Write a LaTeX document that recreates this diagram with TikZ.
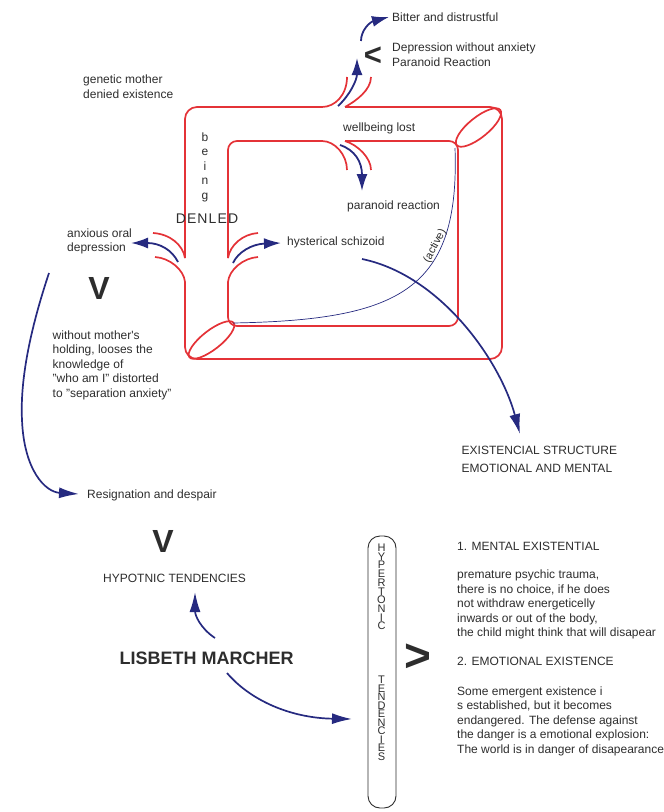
\documentclass[tikz,border=0pt]{standalone}
\usepackage{fontspec}
\setmainfont{Liberation Sans}
\usetikzlibrary{arrows.meta}
\definecolor{fr}{RGB}{228,50,55}
\definecolor{nv}{RGB}{38,42,128}
\definecolor{tx}{RGB}{45,45,45}
\newcommand{\ml}[1]{\begin{tabular}[t]{@{}l@{}}#1\end{tabular}}
\tikzset{
  lbl/.style={anchor=base west, inner sep=0pt, text=tx, font=\fontsize{12bp}{14.5bp}\selectfont},
  frame/.style={draw=fr, line width=1.7bp},
  chan/.style={draw=nv, line width=1.8bp, -{Latex[length=17bp,width=11bp]}},
  bigarrow/.style={draw=nv, line width=1.7bp, -{Latex[length=20bp,width=11bp]}},
  sym/.style={inner sep=0pt, text=tx},
  vletter/.style={inner sep=0pt, text=tx, font=\fontsize{11bp}{11bp}\selectfont},
}
\begin{document}
\begin{tikzpicture}[x=1bp,y=-1bp]
\useasboundingbox (0,0) rectangle (664,812);

% ---------- vertical box (first) ----------
\node[draw=tx, line width=0.9bp, rounded corners=12bp, minimum width=28bp, minimum height=272bp, inner sep=0pt] (htbox) at (382,672) {};
\foreach \ltr [count=\k from 0] in {H,Y,P,E,R,T,O,N,I,C}
  \node[vletter, anchor=base] (hy\k) at (381.5,{551.5+8.72*\k}) {\ltr};
\foreach \ltr [count=\k from 0] in {T,E,N,D,E,N,C,I,E,S}
  \node[vletter, anchor=base] (te\k) at (381.5,{683.5+8.5*\k}) {\ltr};
\node[sym, font=\fontsize{46bp}{46bp}\selectfont\bfseries] (gt) at (418,658) {>};

% ---------- red frame: outer ----------
\draw[frame, rounded corners=12bp] (322,107) -- (185,107) -- (185,258);
\draw[frame] (322,107) .. controls (335,107) and (347,95) .. (347,77);
\draw[frame] (185,258) .. controls (183,245) and (170,234) .. (153,233);
\draw[frame, rounded corners=12bp] (345,107) -- (502,107) -- (502,359) -- (185,359) -- (185,282);
\draw[frame] (345,107) .. controls (356,101) and (371,90) .. (371,77);
\draw[frame] (185,282) .. controls (184,270) and (170,258) .. (155,257);
% ---------- red frame: inner ----------
\draw[frame, rounded corners=9bp] (322,141) -- (228,141) -- (228,258);
\draw[frame] (322,141) .. controls (335,141) and (347,155) .. (347,170);
\draw[frame] (228,258) .. controls (230,245) and (243,234) .. (258,233);
\draw[frame, rounded corners=9bp] (345,141) -- (458,141) -- (458,326) -- (228,326) -- (228,282);
\draw[frame] (345,141) .. controls (358,145) and (371,158) .. (371,170);
\draw[frame] (228,282) .. controls (229,270) and (243,258) .. (258,257);
% ---------- ellipses at corners ----------
\draw[frame, rotate around={39:(478.5,127.5)}] (478.5,127.5) ellipse [x radius=28, y radius=10];
\draw[frame, rotate around={38:(211.5,340)}] (211.5,340) ellipse [x radius=28, y radius=9.5];

% ---------- coordinates for connectors ----------
\coordinate (c1s) at (338,106);  \coordinate (c1e) at (357,58);
\coordinate (c2s) at (361,41);   \coordinate (c2e) at (389,17);
\coordinate (c3s) at (340,145);  \coordinate (c3e) at (362,191);
\coordinate (c4s) at (178,262);  \coordinate (c4e) at (131,243);
\coordinate (c5s) at (233,263);  \coordinate (c5e) at (281,243);
\coordinate (b1s) at (362,259);  \coordinate (b1e) at (520,434);
\coordinate (b2s) at (49,273);   \coordinate (b2e) at (79,494);
\coordinate (b3s) at (215,638);  \coordinate (b3e) at (195,592);
\coordinate (b4s) at (227,673);  \coordinate (b4e) at (352,719);
\coordinate (as) at (455,148);   \coordinate (ae) at (233,323);

% ---------- blue channel arrows ----------
\draw[chan] (c1s) .. controls (350,95) and (357,80) .. (c1e);
\draw[chan] (c2s) .. controls (361,30) and (370,22) .. (c2e);
\draw[chan] (c3s) .. controls (355,150) and (362,162) .. (c3e);
\draw[chan] (c4s) .. controls (172,250) and (160,243) .. (c4e);
\draw[chan] (c5s) .. controls (238,252) and (252,244) .. (c5e);

% ---------- thin (active) curve ----------
\draw[nv, line width=0.7bp] (as) .. controls (460,290) and (400,320) .. (ae);

% ---------- big blue arrows ----------
\draw[bigarrow] (b1s) .. controls (440,275) and (500,360) .. (b1e);
\draw[bigarrow] (b2s) .. controls (30,330) and (20,380) .. (22,420) .. controls (24,470) and (45,492) .. (b2e);
\draw[bigarrow] (b3s) .. controls (200,628) and (195,615) .. (b3e);
\draw[bigarrow] (b4s) .. controls (250,700) and (290,718) .. (b4e);

% ---------- texts ----------
\node[lbl] (bitter) at (392,22) {Bitter and distrustful};
\node[lbl] (dep) at (392,52) {\ml{Depression without anxiety\\Paranoid Reaction}};
\node[sym, font=\fontsize{31bp}{31bp}\selectfont\bfseries] (lt) at (373,56) {<};
\node[lbl] (gm) at (83,83.5) {\ml{genetic mother\\denied existence}};
\node[lbl] (wl) at (343,131.5) {wellbeing lost};
\node[lbl] (pr) at (347,209.5) {paranoid reaction};
\node[lbl] (hs) at (287,245.5) {hysterical schizoid};
\node[lbl] (aod) at (67,237) {\ml{anxious oral\\depression}};
\node[sym, font=\fontsize{12bp}{14.5bp}\selectfont, align=center] (being) at (205,167) {b\\e\\i\\n\\g};
\node[sym, font=\fontsize{14bp}{14bp}\selectfont\addfontfeature{LetterSpace=8}] (den) at (207,219) {DENLED};
\node[sym, font=\fontsize{32bp}{32bp}\selectfont\bfseries] (v1) at (99,288) {V};
\node[lbl] (wm) at (52.5,339) {\ml{without mother\textquotesingle s\\holding, looses the\\knowledge of\\"who am I" distorted\\to "separation anxiety"}};
\node[lbl] (rd) at (87,498) {Resignation and despair};
\node[lbl, font=\fontsize{12bp}{18bp}\selectfont] (es) at (461.5,454) {\ml{EXISTENCIAL STRUCTURE\\EMOTIONAL AND MENTAL}};
\node[sym, font=\fontsize{32bp}{32bp}\selectfont\bfseries] (v2) at (163,541) {V};
\node[lbl] (hyp) at (103,582) {HYPOTNIC TENDENCIES};
\node[lbl, font=\fontsize{18bp}{20bp}\selectfont\bfseries] (lm) at (119.5,664) {LISBETH MARCHER};

% ---------- right text block ----------
\node[lbl] (m1) at (457,550) {1. MENTAL EXISTENTIAL};
\node[lbl] (m1t) at (457,578.5) {\ml{premature psychic trauma,\\there is no choice, if he does\\not withdraw energeticelly\\inwards or out of the body,\\the child might think that will disapear}};
\node[lbl] (e2) at (457,665) {2. EMOTIONAL EXISTENCE};
\node[lbl] (e2t) at (457,695) {\ml{Some emergent existence i\\s established, but it becomes\\endangered. The defense against\\the danger is a emotional explosion:\\The world is in danger of disapearance}};

% ---------- rotated label last ----------
\node[sym, font=\fontsize{11bp}{11bp}\selectfont, rotate=62] (act) at (435,246) {(active)};
\end{tikzpicture}
\end{document}
